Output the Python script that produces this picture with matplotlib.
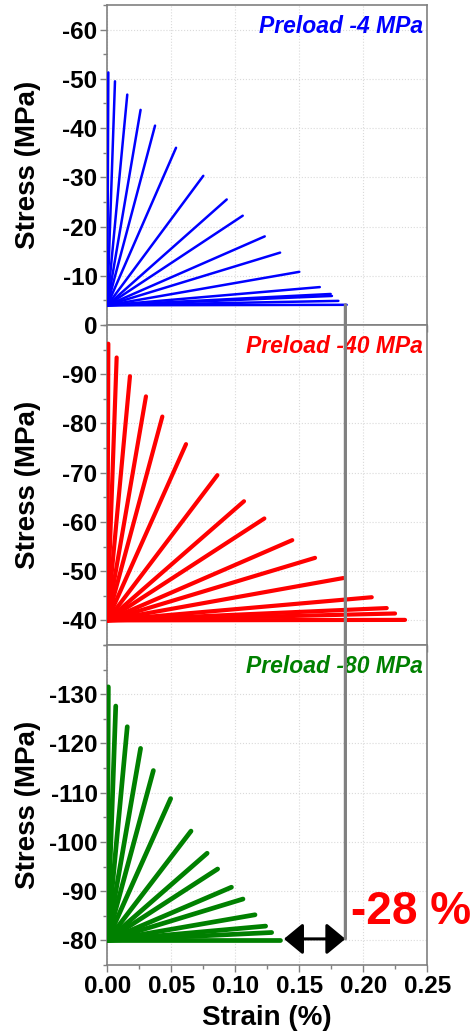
import matplotlib
matplotlib.use("Agg")
import matplotlib.pyplot as plt
from matplotlib.patches import ConnectionPatch
from matplotlib.ticker import MultipleLocator

plt.rcParams["font.family"] = ["Liberation Sans", "DejaVu Sans"]
plt.rcParams["font.weight"] = "bold"
plt.rcParams["axes.unicode_minus"] = False

# ── Data ──────────────────────────────────────────────────────────────────────

PRELOADS = [-4, -40, -80]
LABELS = ["Preload -4 MPa", "Preload -40 MPa", "Preload -80 MPa"]

# end points (strain %, stress MPa) of each loading branch
STRAIN_4 = [0.0008, 0.006, 0.0156, 0.026, 0.0373, 0.0537, 0.075, 0.0933,
            0.1058, 0.123, 0.135, 0.150, 0.166, 0.1745, 0.1755, 0.1805, 0.187]
STRESS_4 = [-51.3, -49.5, -46.8, -43.7, -40.5, -36.0, -30.3, -25.5,
            -22.2, -18.0, -14.7, -10.8, -7.7, -6.3, -5.9, -4.9, -4.1]

STRAIN_40 = [0.0008, 0.0073, 0.0177, 0.0302, 0.043, 0.0615, 0.086, 0.1068,
             0.1227, 0.1445, 0.1623, 0.1844, 0.2066, 0.2183, 0.2248, 0.2326]
STRESS_40 = [-96.2, -93.4, -89.6, -85.5, -81.4, -75.8, -69.5, -64.2,
             -60.7, -56.3, -52.7, -48.6, -44.7, -42.5, -41.4, -40.1]

STRAIN_80 = [0.0008, 0.0066, 0.0156, 0.026, 0.036, 0.0495, 0.0654, 0.078,
             0.0862, 0.097, 0.106, 0.1154, 0.1237, 0.1284, 0.135]
STRESS_80 = [-131.5, -127.6, -123.4, -119.0, -114.5, -108.8, -102.2, -97.7,
             -94.5, -90.8, -88.4, -85.2, -82.9, -81.6, -80.0]

STRAINS = [STRAIN_4, STRAIN_40, STRAIN_80]
STRESSES = [STRESS_4, STRESS_40, STRESS_80]

YLIMS = [(0, -65), (-35, -100), (-75, -140)]
YTICKS = [range(0, -61, -10), range(-40, -91, -10), range(-80, -131, -10)]
XTICKS = [0.00, 0.05, 0.10, 0.15, 0.20, 0.25]

MAX_STRAIN = 0.186      # strain limit marker
ARROW_FROM = 0.138
MARK_TOP = -4.1
MARK_BOTTOM = -80.3
REDUCTION = "-28 %"

COLORS = ["#0000ff", "#ff0000", "#008000"]
WIDTHS = [1.8, 3.0, 3.4]
GRAY = "#808080"

# ── Plot ──────────────────────────────────────────────────────────────────────

fig = plt.figure(figsize=(4.77, 10.35), dpi=100)
W, H = 477, 1035
left, width, height = 107.3 / W, 320 / W, 320 / H
bottoms = [(H - 325) / H, (H - 645) / H, (H - 965) / H]

axes = []
for i in range(3):
    ax = fig.add_axes([left, bottoms[i], width, height])
    axes.append(ax)
    for xe, ye in zip(STRAINS[i], STRESSES[i]):
        ax.plot([0, xe], [PRELOADS[i], ye], color=COLORS[i], lw=WIDTHS[i],
                solid_capstyle="round", zorder=3)
    ax.set_xlim(0, 0.25)
    ax.set_ylim(*YLIMS[i])
    ax.set_yticks(list(YTICKS[i]))
    ax.set_xticks(XTICKS)
    ax.xaxis.set_minor_locator(MultipleLocator(0.025))
    ax.yaxis.set_minor_locator(MultipleLocator(5))
    ax.grid(True, which="major", color="#dadada", ls=":", lw=0.8)
    for s in ax.spines.values():
        s.set_color(GRAY)
        s.set_linewidth(1.2)
    ax.tick_params(which="both", direction="out", color=GRAY, width=1.0,
                   labelsize=17.5, pad=2)
    ax.tick_params(which="major", length=5)
    ax.tick_params(which="minor", length=3)
    ax.set_ylabel("Stress (MPa)", fontsize=20, fontweight="bold", va="center")
    ax.yaxis.set_label_coords(-0.248, 0.5)
    ax.text(0.987, 0.932, LABELS[i], transform=ax.transAxes, ha="right",
            va="center", color=COLORS[i], fontsize=16.5, fontweight="bold",
            fontstyle="italic")
    if i < 2:
        ax.tick_params(axis="x", labelbottom=False)
    else:
        ax.set_xticklabels([f"{v:.2f}" for v in XTICKS])
        ax.set_xlabel("Strain (%)", fontsize=20, fontweight="bold", va="center")
        ax.xaxis.set_label_coords(0.5, -0.166)

ax1, ax2, ax3 = axes

# vertical marker of the maximum strain at -4 MPa preload
con = ConnectionPatch(xyA=(MAX_STRAIN, MARK_TOP), coordsA=ax1.transData,
                      xyB=(MAX_STRAIN, MARK_BOTTOM), coordsB=ax3.transData,
                      color=GRAY, lw=2.3, zorder=10)
fig.add_artist(con)

ax3.annotate("", xy=(ARROW_FROM, MARK_BOTTOM), xytext=(MAX_STRAIN, MARK_BOTTOM),
             arrowprops=dict(arrowstyle="<|-|>,head_length=0.58,head_width=0.48",
                             color="black", lw=2.2, shrinkA=0, shrinkB=0,
                             mutation_scale=20),
             annotation_clip=False, zorder=6)

ax3.text(0.1905, -83.4, REDUCTION, color="#ff0000", fontsize=33,
         fontweight="bold", ha="left", va="baseline", clip_on=False)

fig.savefig("out.png", dpi=100)
